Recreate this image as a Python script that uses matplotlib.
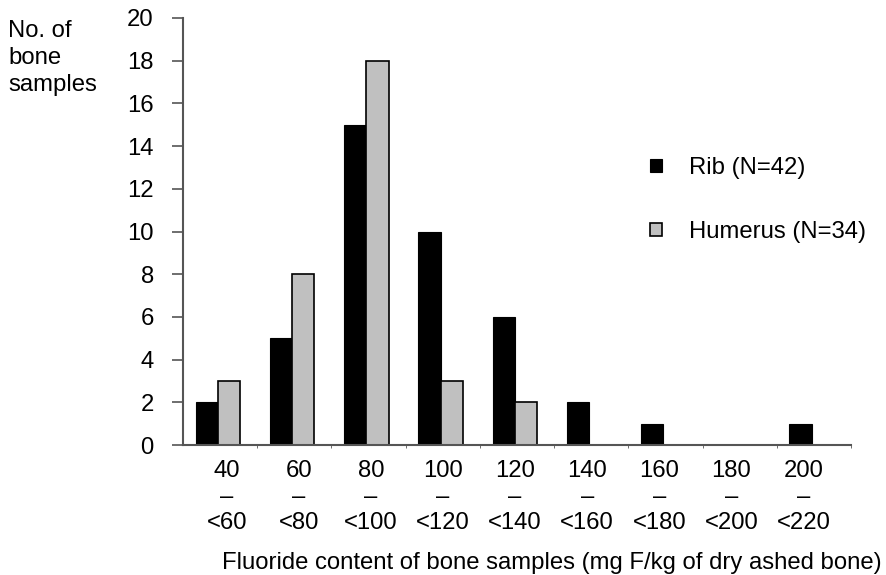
import matplotlib.pyplot as plt
import numpy as np

plt.rcParams['font.family'] = ['Liberation Sans', 'DejaVu Sans']

# data
bins = ["40\n–\n<60", "60\n–\n<80", "80\n–\n<100", "100\n–\n<120", "120\n–\n<140",
        "140\n–\n<160", "160\n–\n<180", "180\n–\n<200", "200\n–\n<220"]
rib = [2, 5, 15, 10, 6, 2, 1, 0, 1]
humerus = [3, 8, 18, 3, 2, 0, 0, 0, 0]

FS = 17.2

fig = plt.figure(figsize=(8.86, 5.75), dpi=100)
ax = fig.add_axes([183 / 886, 1 - 445 / 575, (851 - 183) / 886, (445 - 18) / 575])

x = np.arange(len(bins))
w = 0.30
off = -0.03
ax.bar(x + off - w / 2, rib, w, color='black', edgecolor='black', linewidth=0.8,
       label='Rib (N=42)')
ax.bar(x + off + w / 2, humerus, w, color='#c0c0c0', edgecolor='black', linewidth=1.2,
       label='Humerus (N=34)')

ax.set_xlim(-0.5, len(bins) - 0.5)
ax.set_ylim(0, 20)
ax.set_yticks(range(0, 21, 2))
# category labels sit a little closer together than the category slots
ax.set_xticks(np.linspace(0.09, 7.86, len(bins)))
ax.set_xticklabels(bins, fontsize=FS, linespacing=1.25)
ax.tick_params(axis='x', length=0, pad=10.5)
ax.set_xticks(np.arange(0.5, len(bins), 1), minor=True)
ax.tick_params(axis='x', which='minor', length=2, color='#555555')
ax.tick_params(axis='y', labelsize=FS, length=8, width=1.2, color='#555555', pad=13)

for s in ['top', 'right']:
    ax.spines[s].set_visible(False)
for s in ['left', 'bottom']:
    ax.spines[s].set_color('#555555')
    ax.spines[s].set_linewidth(1.5)

fig.text(8 / 886, 1 - 20 / 575, "No. of\nbone\nsamples", fontsize=FS, va='top',
         ha='left', linespacing=1.29)
fig.text(552 / 886, 1 - 569 / 575,
         "Fluoride content of bone samples (mg F/kg of dry ashed bone)",
         fontsize=FS, ha='center', va='baseline')

leg = ax.legend(loc='upper left', bbox_to_anchor=((650 - 183) / 668, (445 - 157) / 427),
                frameon=False, fontsize=FS, handlelength=0.5, handleheight=0.5,
                labelspacing=1.75, handletextpad=1.15, borderpad=0, borderaxespad=0)

fig.savefig('out.png', dpi=100)
